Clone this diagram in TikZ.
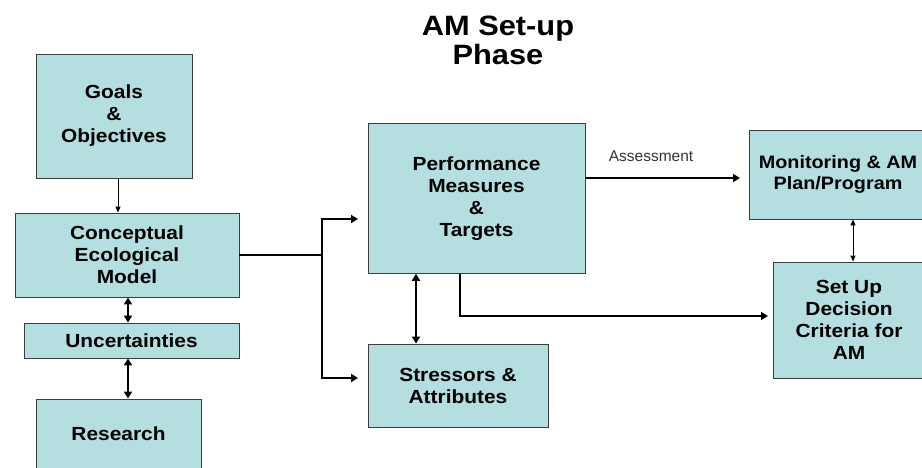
\documentclass[tikz,border=0pt]{standalone}
\usepackage{fontspec}
\setmainfont{Liberation Sans}[FakeStretch=1.1]
\newfontfamily\labelfont{Liberation Sans}
\usetikzlibrary{arrows.meta}
\definecolor{boxfill}{RGB}{180,222,224}
\definecolor{boxline}{RGB}{60,60,60}
\begin{document}
\begin{tikzpicture}[x=1pt,y=-1pt,
  box/.style={draw=boxline, fill=boxfill, line width=0.9pt, align=center,
    inner sep=0pt, font=\fontsize{19}{22}\selectfont\bfseries},
  heavy/.style={line width=2.4pt, -{Triangle[length=7pt,width=8pt]}},
  heavyboth/.style={line width=2.4pt, {Triangle[length=7pt,width=8pt]}-{Triangle[length=7pt,width=8pt]}},
  heavyline/.style={line width=2.4pt},
  light/.style={line width=1pt, -{Triangle[length=6pt,width=5pt]}},
  lightboth/.style={line width=1pt, {Triangle[length=6pt,width=5pt]}-{Triangle[length=6pt,width=5pt]}},
]
\useasboundingbox (0,0) rectangle (922,467);
\clip (0,0) rectangle (922,467);

% title
\node[align=center, font=\fontsize{28}{29}\selectfont\bfseries] (title) at (498,40) {AM Set-up\\Phase};

% left column
\node[box, minimum width=156pt, minimum height=124pt] (goals) at (114,116) {Goals\\\&\\Objectives};
\node[box, minimum width=224pt, minimum height=84pt] (cem) at (127,255) {Conceptual\\Ecological\\Model};
\node[box, minimum width=215pt, minimum height=35pt] (unc) at (131.5,340.5) {Uncertainties};
\node[box, minimum width=165pt, minimum height=70pt] (res) at (118.5,434) {Research};

% middle column
\node[box, minimum width=217pt, minimum height=150pt] (pm) at (476.5,198.3) {Performance\\Measures\\\&\\Targets};
\node[box, minimum width=180pt, minimum height=83pt] (st) at (458,385.5) {Stressors \&\\Attributes};

% right column (boxes run past the right edge; the text sits a little left of centre)
\node[box, minimum width=188pt, minimum height=89pt] (mon) at (843,174.5) {};
\node[align=center, font=\fontsize{18}{21}\selectfont\bfseries] (montext) at (838,174.5) {Monitoring \& AM\\Plan/Program};
\node[box, minimum width=152pt, minimum height=116pt] (setup) at (849,320) {Set Up\\Decision\\Criteria for\\AM};

% left column links
\draw[light] ([xshift=4pt]goals.south) -- ([xshift=4pt]goals.south |- cem.north);
\draw[heavyboth] ([xshift=1pt]cem.south) -- ([xshift=1pt]cem.south |- unc.north);
\draw[heavyboth] ([xshift=-3.5pt]unc.south) -- ([xshift=-3.5pt]unc.south |- res.north);

% fork from the model to the middle column
\coordinate (fk) at (322,255);
\coordinate (pmIn) at (358,219);
\coordinate (stIn) at (358,378);
\draw[heavyline] (cem.east |- fk) -- (fk);
\draw[heavy] (fk) |- (pmIn);
\draw[heavy] (fk) |- (stIn);

% middle column links
\draw[heavyboth] (pm.south -| 416,0) -- (st.north -| 416,0);
\coordinate (aEnd) at (740,178);
\draw[heavy] (pm.east |- aEnd) -- (aEnd);
\node[font=\labelfont\fontsize{15.5}{18}\selectfont, text=black!80] (assess) at (651,156) {Assessment};
\coordinate (dEnd) at (768,316);
\draw[heavy] (pm.south -| 460,0) |- (dEnd);

% right column link
\draw[lightboth] (mon.south -| 853,0) -- (setup.north -| 853,0);
\end{tikzpicture}
\end{document}
